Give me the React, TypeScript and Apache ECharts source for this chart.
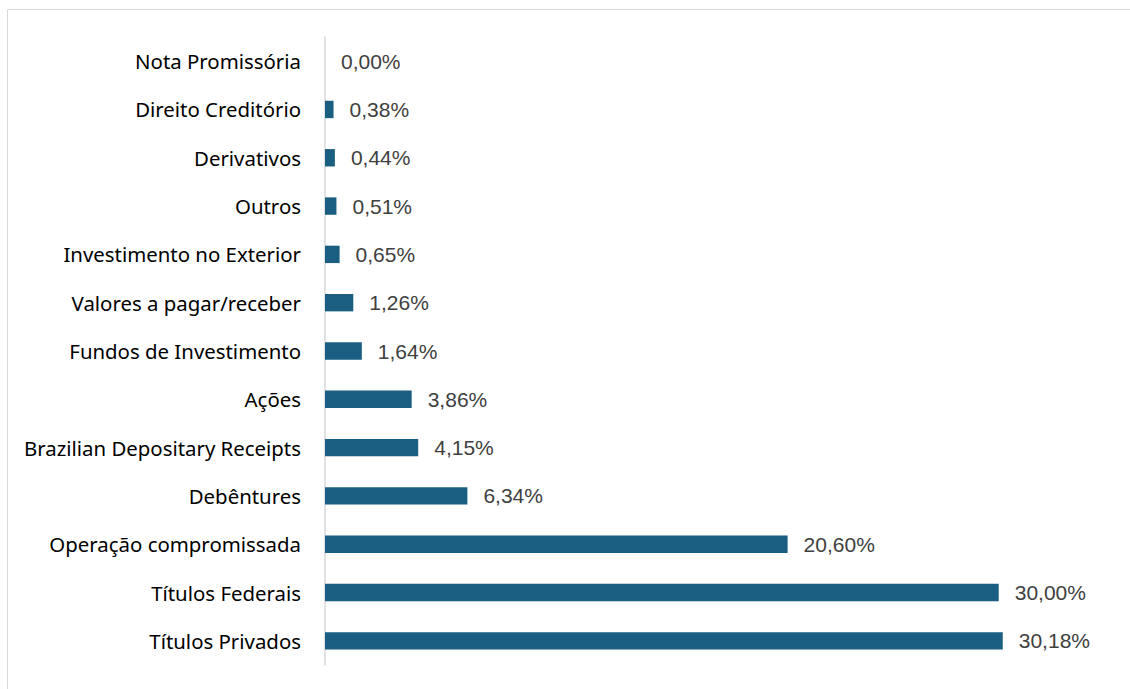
import React, { useEffect, useRef } from "react";
import * as echarts from "echarts";

const categories = [
  "Títulos Privados",
  "Títulos Federais",
  "Operação compromissada",
  "Debêntures",
  "Brazilian Depositary Receipts",
  "Ações",
  "Fundos de Investimento",
  "Valores a pagar/receber",
  "Investimento no Exterior",
  "Outros",
  "Derivativos",
  "Direito Creditório",
  "Nota Promissória",
];
const values = [30.18, 30.0, 20.6, 6.34, 4.15, 3.86, 1.64, 1.26, 0.65, 0.51, 0.44, 0.38, 0.0];

export default function App() {
  const ref = useRef<HTMLDivElement>(null);
  useEffect(() => {
    const chart = echarts.init(ref.current!, null, { renderer: "svg" });
    chart.setOption({
      animation: false,
      backgroundColor: "#ffffff",
      graphic: [
        {
          type: "rect",
          shape: { x: 7.5, y: 9.5, width: 1300, height: 800 },
          style: { fill: "none", stroke: "#d9d9d9", lineWidth: 1 },
          silent: true,
        },
      ],
      grid: { left: 325, top: 37, bottom: 24, right: 19 },
      xAxis: {
        type: "value",
        min: 0,
        max: 35,
        show: false,
      },
      yAxis: {
        type: "category",
        data: categories,
        axisLine: { show: true, lineStyle: { color: "#d9d9d9", width: 1.5 } },
        axisTick: { show: false },
        axisLabel: {
          color: "#000000",
          fontSize: 20.4,
          fontFamily: "Noto Sans",
          margin: 24,
        },
      },
      series: [
        {
          type: "bar",
          data: values,
          barWidth: "36%",
          itemStyle: { color: "#1a5e81" },
          label: {
            show: true,
            position: "right",
            distance: 16,
            color: "#404040",
            fontSize: 21,
            fontFamily: "Liberation Sans",
            formatter: (p: any) => p.value.toFixed(2).replace(".", ",") + "%",
          },
        },
      ],
    });
    return () => chart.dispose();
  }, []);
  return (
    <div
      ref={ref}
      style={{ position: "fixed", left: 0, top: 0, width: 1130, height: 689 }}
    />
  );
}
